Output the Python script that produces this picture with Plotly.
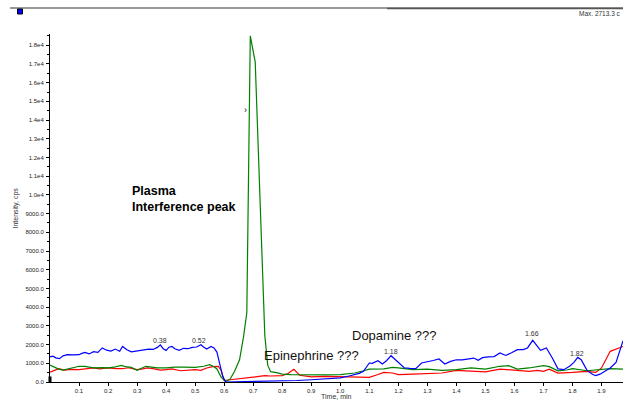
import plotly.graph_objects as go

# ---------------- data ----------------
blue_t = [0.000, 0.010, 0.020, 0.033, 0.045, 0.060, 0.080, 0.100, 0.110, 0.120, 0.135, 0.150, 0.165, 0.180,
          0.195, 0.210, 0.225, 0.240, 0.250, 0.265, 0.280, 0.300, 0.320, 0.340, 0.355, 0.370, 0.380, 0.390,
          0.400, 0.410, 0.420, 0.430, 0.445, 0.460, 0.475, 0.490, 0.505, 0.520, 0.530, 0.540, 0.555, 0.565,
          0.575, 0.585, 0.595, 0.605, 0.650, 0.700, 0.750, 0.800, 0.850, 0.900, 0.950, 1.000, 1.030, 1.050,
          1.065, 1.080, 1.090, 1.100, 1.110, 1.120, 1.130, 1.145, 1.160, 1.175, 1.190, 1.205, 1.220, 1.240,
          1.260, 1.280, 1.300, 1.320, 1.340, 1.360, 1.380, 1.400, 1.420, 1.440, 1.460, 1.475, 1.490, 1.510,
          1.530, 1.550, 1.570, 1.590, 1.610, 1.630, 1.645, 1.663, 1.680, 1.690, 1.710, 1.730, 1.750, 1.770,
          1.790, 1.805, 1.818, 1.830, 1.850, 1.870, 1.880, 1.895, 1.910, 1.930, 1.950, 1.974]
blue_i = [1340, 1380, 1290, 1245, 1400, 1460, 1450, 1460, 1530, 1580, 1500, 1620, 1580, 1820,
          1700, 1650, 1760, 1640, 1900, 1720, 1610, 1670, 1720, 1760, 1740, 1850, 1990, 1780,
          1690, 1860, 1900, 1780, 1690, 1800, 1780, 1850, 1870, 1990, 1860, 1760, 1900, 1820,
          1600, 1000, 300, 0, 10, 20, 40, 50, 80, 120, 170, 220, 320, 390,
          460, 570, 780, 1015, 1000, 1050, 1140, 960, 1150, 1405, 1180, 950, 760, 730,
          710, 1015, 1070, 1150, 1230, 960, 1100, 1190, 1180, 1220, 1280, 1160, 1300, 1340,
          1360, 1550, 1420, 1560, 1730, 1730, 1820, 2225, 1900, 1690, 1820, 1300, 700, 660,
          840, 1050, 1315, 1190, 620, 400, 340, 420, 560, 750, 1050, 2200]

green_t = [0.000, 0.015, 0.030, 0.045, 0.060, 0.080, 0.100, 0.120, 0.150, 0.180, 0.200, 0.220, 0.245, 0.260,
           0.280, 0.300, 0.315, 0.330, 0.350, 0.370, 0.400, 0.430, 0.460, 0.500, 0.530, 0.550, 0.565, 0.575,
           0.590, 0.605, 0.620, 0.636, 0.653, 0.667, 0.678, 0.690, 0.707, 0.740, 0.750, 0.760, 0.780, 0.800,
           0.830, 0.870, 0.900, 0.950, 1.000, 1.050, 1.080, 1.100, 1.150, 1.180, 1.200, 1.250, 1.300, 1.350,
           1.400, 1.450, 1.500, 1.550, 1.580, 1.610, 1.650, 1.700, 1.720, 1.750, 1.780, 1.800, 1.850, 1.900,
           1.930, 1.974]
green_i = [900, 780, 690, 640, 700, 800, 840, 830, 760, 770, 750, 790, 890, 820,
           780, 620, 740, 840, 800, 760, 750, 800, 790, 780, 840, 925, 820, 700,
           250, 30, 150, 570, 1190, 2440, 3700, 18500, 17100, 2500, 900, 550, 500, 420,
           390, 400, 390, 380, 390, 480, 600, 690, 700, 780, 760, 660, 690, 620,
           660, 750, 690, 840, 870, 690, 750, 870, 820, 600, 640, 710, 600, 660,
           710, 690]

red_t = [0.000, 0.015, 0.030, 0.050, 0.070, 0.100, 0.120, 0.150, 0.170, 0.200, 0.230, 0.250, 0.270, 0.300,
         0.320, 0.335, 0.360, 0.380, 0.400, 0.420, 0.450, 0.480, 0.500, 0.520, 0.540, 0.560, 0.580, 0.590,
         0.600, 0.620, 0.650, 0.680, 0.700, 0.720, 0.740, 0.760, 0.800, 0.820, 0.840, 0.860, 0.880, 0.900,
         0.950, 1.000, 1.050, 1.100, 1.130, 1.150, 1.180, 1.200, 1.250, 1.300, 1.350, 1.400, 1.450, 1.500,
         1.550, 1.600, 1.650, 1.680, 1.700, 1.720, 1.750, 1.800, 1.850, 1.880, 1.900, 1.930, 1.950, 1.974]
red_i = [520, 600, 710, 640, 680, 660, 700, 750, 700, 750, 720, 710, 760, 660,
         700, 750, 700, 640, 660, 700, 600, 640, 660, 620, 750, 820, 840, 600,
         80, 120, 160, 200, 260, 300, 340, 320, 340, 450, 680, 360, 300, 270,
         300, 280, 300, 250, 400, 510, 480, 390, 420, 440, 480, 620, 570, 540,
         690, 620, 570, 620, 570, 690, 480, 510, 570, 510, 750, 1640, 1750, 1900]

peak_t = [0.378, 0.515, 1.176, 1.659, 1.817]
peak_y = [2210, 2210, 1620, 2580, 1510]
peak_labels = ["0.38", "0.52", "1.18", "1.66", "1.82"]

x_tickvals = [0.1, 0.2, 0.3, 0.4, 0.5, 0.6, 0.7, 0.8, 0.9, 1.0, 1.1, 1.2, 1.3, 1.4, 1.5, 1.6, 1.7, 1.8, 1.9]
x_ticktext = ["0.1", "0.2", "0.3", "0.4", "0.5", "0.6", "0.7", "0.8", "0.9", "1.0",
              "1.1", "1.2", "1.3", "1.4", "1.5", "1.6", "1.7", "1.8", "1.9"]
y_tickvals = [0, 1000, 2000, 3000, 4000, 5000, 6000, 7000, 8000, 9000,
              10000, 11000, 12000, 13000, 14000, 15000, 16000, 17000, 18000]
y_ticktext = ["0.0", "1000.0", "2000.0", "3000.0", "4000.0", "5000.0", "6000.0", "7000.0", "8000.0",
              "9000.0", "1.0e4", "1.1e4", "1.2e4", "1.3e4", "1.4e4", "1.5e4", "1.6e4", "1.7e4", "1.8e4"]

FONT = "Liberation Sans, Arial, sans-serif"

fig = go.Figure()
for t, v, c in [(red_t, red_i, "#FF0000"), (green_t, green_i, "#008000"), (blue_t, blue_i, "#0000FF")]:
    fig.add_trace(go.Scatter(x=t, y=v, mode="lines", line=dict(color=c, width=1.2),
                             hoverinfo="skip", showlegend=False))

W, H = 623, 400
ML, MR, MT, MB = 50, 0, 34, 18
pw, ph = W - ML - MR, H - MT - MB

def px(x):
    return (x - ML) / pw

def py(y):
    return (H - MB - y) / ph

annotations = []
for t, v, s in zip(peak_t, peak_y, peak_labels):
    annotations.append(dict(x=t, y=v, xref="x", yref="y", text=s, showarrow=False,
                            font=dict(family=FONT, size=7, color="#333333"),
                            xanchor="center", yanchor="middle"))

annotations += [
    dict(x=0.277, y=9770, xref="x", yref="y", text="<b>Plasma<br>Interference peak</b>",
         showarrow=False, align="left", xanchor="left", yanchor="middle",
         font=dict(family=FONT, size=12.5, color="#000000")),
    dict(x=0.730, y=1405, xref="x", yref="y", text="Epinephrine ???", showarrow=False,
         xanchor="left", yanchor="middle", font=dict(family=FONT, size=13, color="#111111")),
    dict(x=1.034, y=2475, xref="x", yref="y", text="Dopamine ???", showarrow=False,
         xanchor="left", yanchor="middle", font=dict(family=FONT, size=13, color="#111111")),
    dict(x=0.675, y=14550, xref="x", yref="y", text="›", showarrow=False,
         xanchor="center", yanchor="middle", font=dict(family=FONT, size=9, color="#000000")),
    dict(x=0.5, y=py(396.7), xref="paper", yref="paper", text="Time, min", showarrow=False,
         xanchor="center", yanchor="middle", font=dict(family=FONT, size=7, color="#333333")),
    dict(x=px(15.5), y=0.5, xref="paper", yref="paper", text="Intensity, cps", showarrow=False,
         textangle=-90, xanchor="center", yanchor="middle",
         font=dict(family=FONT, size=7, color="#333333")),
    dict(x=px(622.5), y=py(13), xref="paper", yref="paper", text="Max. 2713.3 c", showarrow=False,
         xanchor="right", yanchor="middle", font=dict(family=FONT, size=6.5, color="#333333")),
]

shapes = [
    dict(type="line", xref="paper", yref="paper", x0=px(10), x1=px(623), y0=py(8), y1=py(8),
         line=dict(color="#333333", width=1)),
    dict(type="line", xref="paper", yref="paper", x0=px(387), x1=px(623), y0=py(8.5), y1=py(8.5),
         line=dict(color="#555555", width=1.5)),
    dict(type="rect", xref="paper", yref="paper", x0=px(17.5), x1=px(22.5), y0=py(14), y1=py(9),
         fillcolor="#0000FF", line=dict(color="#000000", width=1)),
    dict(type="rect", xref="paper", yref="paper", x0=px(48.5), x1=px(51.5), y0=py(382), y1=py(376.5),
         fillcolor="#000000", line=dict(width=0)),
]

fig.update_layout(
    width=W, height=H,
    margin=dict(l=ML, r=MR, t=MT, b=MB, pad=0),
    plot_bgcolor="white", paper_bgcolor="white",
    font=dict(family=FONT, size=6, color="#222222"),
    annotations=annotations, shapes=shapes,
    xaxis=dict(range=[0, 1.974], tickmode="array", tickvals=x_tickvals, ticktext=x_ticktext,
               showgrid=False, zeroline=False, showline=True, linecolor="#000000", linewidth=1,
               ticks="outside", ticklen=3, tickcolor="#000000", tickwidth=1,
               tickfont=dict(family=FONT, size=6, color="#222222"), layer="below traces",
               ticklabelstandoff=0),
    yaxis=dict(range=[0, 18600], tickmode="array", tickvals=y_tickvals, ticktext=y_ticktext,
               showgrid=False, zeroline=False, showline=True, linecolor="#000000", linewidth=1,
               ticks="outside", ticklen=3, tickcolor="#000000", tickwidth=1,
               tickfont=dict(family=FONT, size=6, color="#222222"), layer="below traces",
               minor=dict(ticks="outside", ticklen=2, tickcolor="#000000", dtick=500, tick0=0,
                          showgrid=False),
               ticklabelstandoff=1),
)

fig.write_html("out.html", config={"displayModeBar": False},
               post_script="document.body.style.margin='0';document.body.style.overflow='hidden';")
